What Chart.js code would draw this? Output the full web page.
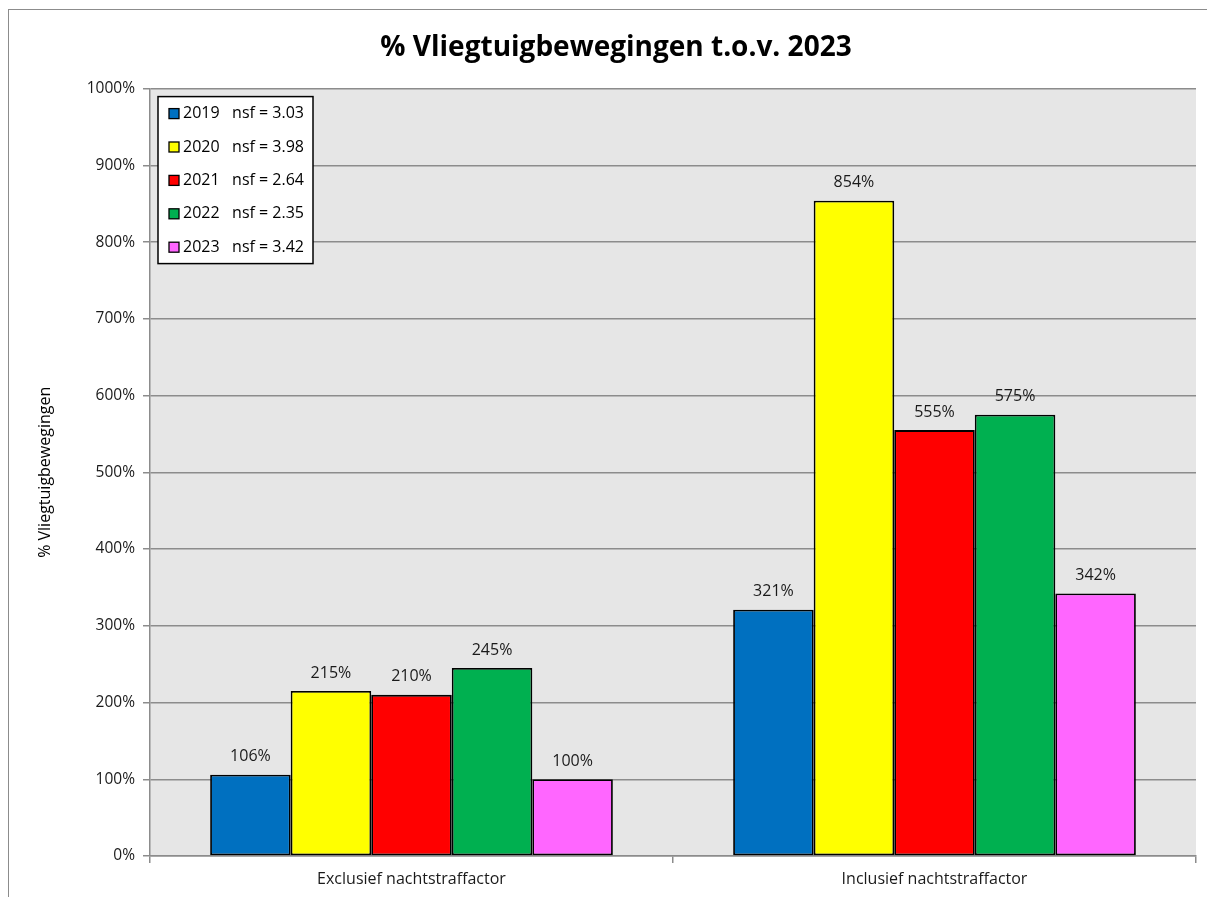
<!DOCTYPE html>
<html>
<head>
<meta charset="utf-8">
<script src="https://cdn.jsdelivr.net/npm/chart.js@4.4.0/dist/chart.umd.min.js"></script>
<style>
  html, body { margin: 0; padding: 0; background: #fff; }
  #wrap { width: 1207px; height: 897px; }
</style>
</head>
<body>
<div id="wrap"><canvas id="barChart" width="1207" height="897"></canvas></div>
<script>
// chart data
var categories = ['Exclusief nachtstraffactor', 'Inclusief nachtstraffactor'];
var seriesNames = ['2019   nsf = 3.03', '2020   nsf = 3.98', '2021   nsf = 2.64', '2022   nsf = 2.35', '2023   nsf = 3.42'];
var values2019 = [106, 321];
var values2020 = [215, 854];
var values2021 = [210, 555];
var values2022 = [245, 575];
var values2023 = [100, 342];
var seriesColors = ['#0070C0', '#FFFF00', '#FF0000', '#00B050', '#FF66FF'];
var yTicks = [0, 100, 200, 300, 400, 500, 600, 700, 800, 900, 1000];

var FONT = "'Open Sans', 'Noto Sans', sans-serif";

// grey plot area + outer frame
var backgroundPlugin = {
	id: 'plotBackground',
	beforeDraw: function(chart) {
		var ctx = chart.ctx, a = chart.chartArea;
		ctx.save();
		ctx.fillStyle = '#fff';
		ctx.fillRect(0, 0, chart.width, chart.height);
		ctx.strokeStyle = '#8c8c8c';
		ctx.lineWidth = 1;
		ctx.strokeRect(8.5, 9.5, chart.width + 20, chart.height + 20);
		ctx.fillStyle = '#e6e6e6';
		ctx.fillRect(a.left, a.top, a.right - a.left, a.bottom - a.top);
		ctx.restore();
	}
};

// value labels above bars
var valueLabelPlugin = {
	id: 'valueLabels',
	afterDatasetsDraw: function(chart) {
		var ctx = chart.ctx;
		ctx.save();
		ctx.font = '16px ' + FONT;
		ctx.fillStyle = '#1a1a1a';
		ctx.textAlign = 'center';
		ctx.textBaseline = 'middle';
		chart.data.datasets.forEach(function(ds, i) {
			chart.getDatasetMeta(i).data.forEach(function(bar, j) {
				ctx.fillText(ds.data[j] + '%', bar.x, bar.y - 18);
			});
		});
		ctx.restore();
	}
};

// boxed legend in the top left corner of the plot
var boxLegendPlugin = {
	id: 'boxLegend',
	afterDraw: function(chart) {
		var ctx = chart.ctx, a = chart.chartArea;
		var x = a.left + 8, y = a.top + 8, w = 155, h = 167;
		ctx.save();
		ctx.fillStyle = '#fff';
		ctx.fillRect(x, y, w, h);
		ctx.strokeStyle = '#000';
		ctx.lineWidth = 1.5;
		ctx.strokeRect(x, y, w, h);
		ctx.font = '16px ' + FONT;
		ctx.textBaseline = 'middle';
		ctx.textAlign = 'left';
		chart.data.datasets.forEach(function(ds, i) {
			var cy = y + 17 + i * 33.4;
			ctx.fillStyle = ds.backgroundColor;
			ctx.fillRect(x + 11, cy - 5, 10, 10);
			ctx.lineWidth = 1.3;
			ctx.strokeStyle = '#000';
			ctx.strokeRect(x + 11, cy - 5, 10, 10);
			ctx.fillStyle = '#000';
			ctx.fillText(ds.label, x + 25, cy);
		});
		ctx.restore();
	}
};

var datasetValues = [values2019, values2020, values2021, values2022, values2023];
var datasets = seriesNames.map(function(name, i) {
	return {
		label: name,
		data: datasetValues[i],
		backgroundColor: seriesColors[i],
		borderColor: '#000',
		borderWidth: 1.8,
		borderSkipped: false
	};
});

var ctx = document.getElementById('barChart').getContext('2d');
var barChart = new Chart(ctx, {
	type: 'bar',
	data: {
		labels: categories,
		datasets: datasets
	},
	options: {
		responsive: false,
		animation: false,
		devicePixelRatio: 1,
		datasets: {
			bar: {
				barPercentage: 1,
				categoryPercentage: 0.77
			}
		},
		layout: {
			padding: { top: 0, left: 36, right: 11, bottom: 0 }
		},
		plugins: {
			legend: { display: false },
			tooltip: { enabled: false },
			title: {
				display: true,
				text: '% Vliegtuigbewegingen t.o.v. 2023',
				color: '#000',
				font: { family: FONT, size: 28, weight: 'bold' },
				padding: { top: 31, bottom: 24 }
			}
		},
		scales: {
			x: {
				grid: {
					offset: true,
					drawOnChartArea: false,
					color: '#8c8c8c',
					tickLength: 7,
					lineWidth: 1.5
				},
				border: { color: '#8c8c8c', width: 1.5 },
				ticks: {
					color: '#1a1a1a',
					font: { family: FONT, size: 16 },
					padding: 7
				},
				afterFit: function(scale) { scale.height = 41; }
			},
			y: {
				min: 0,
				max: 1000,
				afterBuildTicks: function(scale) {
					scale.ticks = yTicks.map(function(v) { return { value: v }; });
				},
				grid: {
					color: '#8c8c8c',
					lineWidth: 1.5,
					tickLength: 7
				},
				border: { color: '#8c8c8c', width: 1.5 },
				ticks: {
					color: '#1a1a1a',
					font: { family: FONT, size: 15.5 },
					padding: 8,
					callback: function(v) { return v + '%'; }
				},
				title: {
					display: true,
					text: '% Vliegtuigbewegingen',
					color: '#000',
					font: { family: FONT, size: 16 },
					padding: 0
				},
				afterFit: function(scale) { scale.width = 114; }
			}
		}
	},
	plugins: [backgroundPlugin, valueLabelPlugin, boxLegendPlugin]
});
</script>
</body>
</html>
